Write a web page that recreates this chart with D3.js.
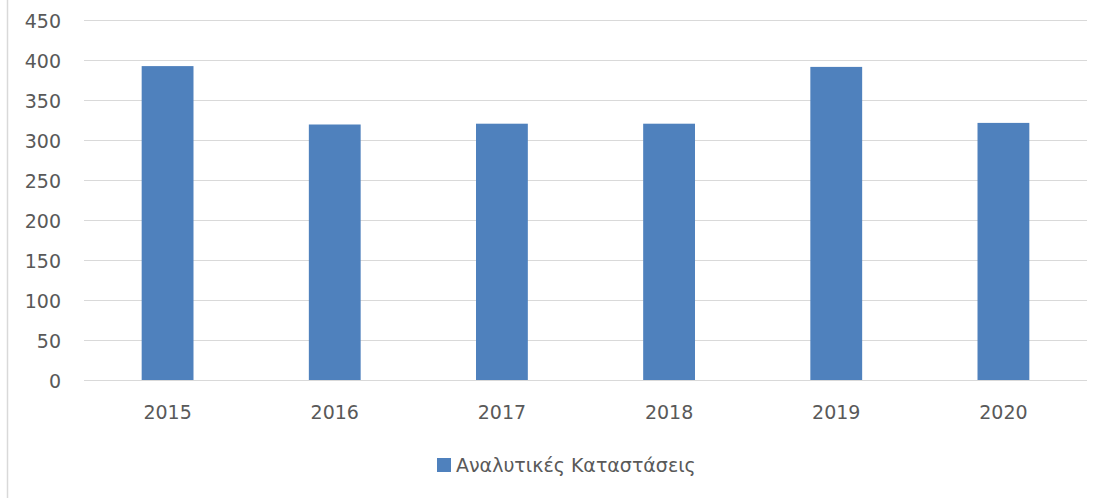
<!DOCTYPE html>
<html>
<head>
<meta charset="utf-8">
<script src="https://cdn.jsdelivr.net/npm/d3@7"></script>
<style>
  body { margin: 0; background: #fff; }
  text { font-family: "DejaVu Sans", sans-serif; fill: #595959; }
</style>
</head>
<body>
<script>
// chart data
var years = ["2015", "2016", "2017", "2018", "2019", "2020"];
var values = [393, 320, 321, 321, 392, 322];
var yTicks = [0, 50, 100, 150, 200, 250, 300, 350, 400, 450];
var seriesName = "Αναλυτικές Καταστάσεις";

var width = 1105, height = 498;
var barColor = "#4F81BD";
var fontSize = 19;

var svg = d3.select("body").append("svg")
	.attr("width", width)
	.attr("height", height);

// left frame edge
svg.append("line")
	.attr("x1", 7.5).attr("x2", 7.5)
	.attr("y1", 0).attr("y2", height)
	.attr("stroke", "#d9d9d9")
	.attr("stroke-width", 1.5);

var x = d3.scaleBand()
	.domain(years)
	.range([84, 1087])
	.paddingInner(0.69)
	.paddingOuter(0.345);

var y = d3.scaleLinear()
	.domain([0, 450])
	.range([380.5, 20.5]);

// gridlines
svg.append("g")
	.selectAll("line")
	.data(yTicks)
	.enter()
	.append("line")
	.attr("x1", 84)
	.attr("x2", 1087)
	.attr("y1", function(d) { return y(d); })
	.attr("y2", function(d) { return y(d); })
	.attr("stroke", "#d9d9d9")
	.attr("stroke-width", 1);

// y labels
var yAxis = d3.axisLeft(y).tickValues(yTicks).tickSize(0).tickPadding(0);
var gy = svg.append("g")
	.attr("transform", "translate(61,0)")
	.call(yAxis);
gy.select(".domain").remove();
gy.selectAll("text")
	.attr("font-size", fontSize)
	.attr("font-family", null)
	.attr("fill", "#595959")
	.attr("dy", "0.36em");

// bars
svg.append("g")
	.selectAll("rect")
	.data(values)
	.enter()
	.append("rect")
	.attr("x", function(d, i) { return x(years[i]); })
	.attr("y", function(d) { return y(d); })
	.attr("width", x.bandwidth())
	.attr("height", function(d) { return y(0) - y(d) - 0.5; })
	.attr("fill", barColor);

// x labels
var xAxis = d3.axisBottom(x).tickSize(0).tickPadding(0);
var gx = svg.append("g")
	.attr("transform", "translate(0,419)")
	.call(xAxis);
gx.select(".domain").remove();
gx.selectAll("text")
	.attr("font-size", fontSize)
	.attr("font-family", null)
	.attr("fill", "#595959")
	.attr("dy", 0);

// legend
var legend = svg.append("g");
legend.append("rect")
	.attr("x", 437)
	.attr("y", 458)
	.attr("width", 14)
	.attr("height", 14)
	.attr("fill", barColor);
legend.append("text")
	.attr("x", 456)
	.attr("y", 472)
	.attr("font-size", fontSize)
	.text(seriesName);
</script>
</body>
</html>
